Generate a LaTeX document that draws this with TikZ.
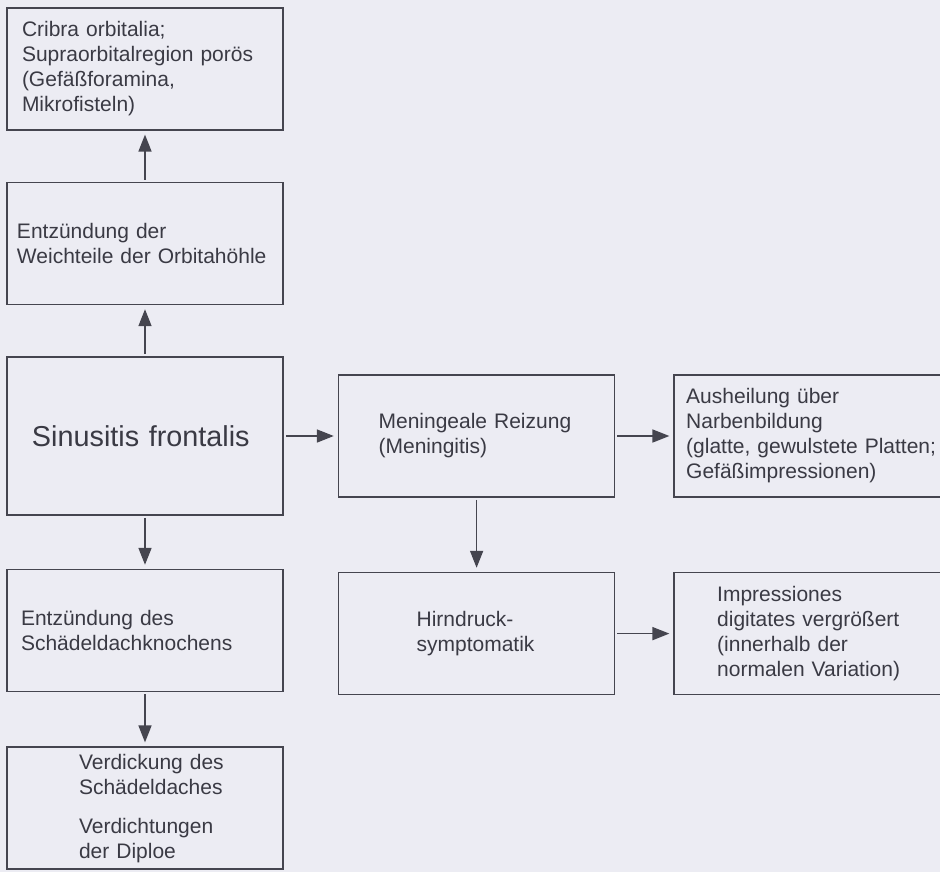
\documentclass[tikz,border=0pt]{standalone}
\usepackage{fontspec}
\setmainfont{Liberation Sans}
\usetikzlibrary{arrows.meta,positioning,graphs}
\definecolor{pagebg}{HTML}{ECECF3}
\definecolor{lncol}{HTML}{45454F}
\definecolor{txtcol}{HTML}{3A3A44}

\begin{document}
\begin{tikzpicture}[x=0.5pt,y=-0.5pt]
	\tikzstyle{every node}=[font=\fontsize{10.5}{12.5}\selectfont,text=txtcol];
	\tikzstyle{blk}=[draw=lncol,line width=0.8pt,rectangle,align=left,inner sep=2pt,minimum width=138pt,minimum height=61pt];
	\tikzstyle{bigblk}=[blk,minimum height=79pt,font=\fontsize{14.4}{17}\selectfont];
	\path[use as bounding box,fill=pagebg] (0,0) rectangle (940,872);
	% left column
	\node (sinus) [bigblk,text width=113pt] at (145,436) {Sinusitis frontalis};
	\node (weich) [blk,text width=128pt,above=25.5pt of sinus] {Entzündung der\\Weichteile der Orbitahöhle};
	\node (cribra) [blk,text width=123pt,above=25.5pt of weich] {Cribra orbitalia;\\Supraorbitalregion porös\\(Gefäßforamina,\\Mikrofisteln)};
	\node (knochen) [blk,text width=124pt,below=26.5pt of sinus] {Entzündung des\\Schädeldachknochens};
	\node (verdick) [blk,text width=66pt,below=27pt of knochen] {Verdickung~des\\Schädeldaches\\[7pt]Verdichtungen\\der~Diploe};
	% middle and right column
	\node (mening) [blk,text width=98pt,right=27pt of sinus] {Meningeale Reizung\\(Meningitis)};
	\node (heil) [blk,text width=126pt,right=29pt of mening] {Ausheilung über\\Narbenbildung\\(glatte, gewulstete Platten;\\Gefäßimpressionen)};
	\node (hirn) [blk,text width=60pt,below=37pt of mening] {Hirndruck-\\symptomatik};
	\node (impr) [blk,text width=95pt,right=29pt of hirn] {Impressiones\\digitates vergrößert\\(innerhalb der\\normalen Variation)};
	\graph [use existing nodes,edges={-{Triangle[width=6.5pt,length=8.5pt]},color=lncol,line width=0.8pt,shorten <=1pt,shorten >=2pt}]{
		weich -> cribra;
		sinus -> weich;
		sinus -> knochen -> verdick;
		sinus -> mening -> heil;
		mening -> hirn -> impr;
	};
\end{tikzpicture}
\end{document}
